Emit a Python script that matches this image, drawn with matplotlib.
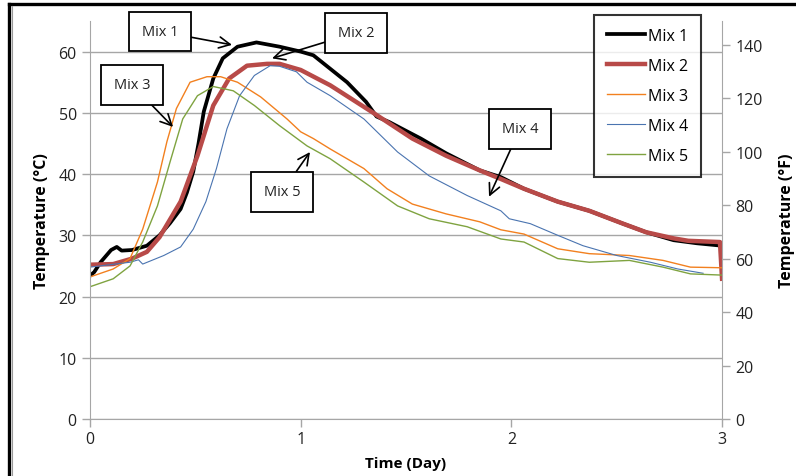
import matplotlib.pyplot as plt
from matplotlib.lines import Line2D

plt.rcParams["font.family"] = ["Open Sans", "DejaVu Sans"]

# temperature logs, day vs deg C
mix1_day = [0.0, 0.02, 0.05, 0.10, 0.127, 0.15, 0.20, 0.27, 0.33, 0.38, 0.43,
            0.46, 0.49, 0.515, 0.54, 0.585, 0.63, 0.70, 0.79, 0.90, 1.00, 1.06,
            1.14, 1.22, 1.31, 1.36, 1.42, 1.57, 1.69, 1.85, 1.95, 2.06, 2.22,
            2.37, 2.53, 2.64, 2.77, 2.88, 3.0]
mix1_temp = [23.4, 24.0, 25.6, 27.6, 28.1, 27.5, 27.6, 28.3, 30.0, 32.0, 34.3,
             37.0, 40.4, 45.0, 50.2, 55.6, 58.9, 60.8, 61.5, 60.8, 60.0, 59.4,
             57.2, 55.0, 51.8, 49.4, 48.5, 45.8, 43.4, 40.6, 39.5, 37.6, 35.5,
             34.0, 31.9, 30.5, 29.2, 28.7, 28.3]

mix2_day = [0.0, 0.11, 0.20, 0.27, 0.33, 0.43, 0.51, 0.585, 0.66, 0.745, 0.84,
            0.90, 1.00, 1.14, 1.34, 1.53, 1.69, 1.85, 1.95, 2.06, 2.22, 2.37,
            2.53, 2.64, 2.77, 2.84, 2.99, 3.0]
mix2_temp = [25.2, 25.3, 26.2, 27.3, 29.7, 35.5, 43.0, 51.2, 55.6, 57.7, 58.0,
             58.0, 57.0, 54.5, 50.1, 45.8, 43.0, 40.6, 39.2, 37.6, 35.5, 34.0,
             31.9, 30.5, 29.5, 29.1, 28.9, 22.9]

mix3_day = [0.0, 0.11, 0.19, 0.25, 0.32, 0.365, 0.41, 0.475, 0.555, 0.62, 0.70,
            0.81, 0.935, 1.00, 1.06, 1.14, 1.30, 1.41, 1.53, 1.69, 1.85, 1.95,
            2.06, 2.22, 2.37, 2.56, 2.72, 2.85, 3.0]
mix3_temp = [23.2, 24.5, 26.2, 31.0, 38.7, 45.3, 50.7, 55.0, 55.9, 55.9, 55.0,
             52.6, 49.0, 46.9, 45.8, 44.1, 40.9, 37.6, 35.1, 33.5, 32.2, 30.9,
             30.2, 27.8, 27.0, 26.7, 25.9, 24.8, 24.7]

mix4_day = [0.0, 0.19, 0.23, 0.25, 0.35, 0.43, 0.49, 0.55, 0.60, 0.65, 0.71,
            0.78, 0.855, 0.90, 0.98, 1.03, 1.14, 1.30, 1.46, 1.61, 1.79, 1.95,
            1.99, 2.09, 2.22, 2.34, 2.50, 2.66, 2.79, 2.91]
mix4_temp = [24.8, 25.6, 26.0, 25.3, 26.7, 28.1, 31.0, 35.5, 40.9, 47.4, 52.8,
             56.1, 57.7, 57.6, 56.7, 55.0, 52.8, 49.0, 43.6, 39.7, 36.5, 34.0,
             32.7, 31.9, 30.0, 28.3, 26.7, 25.6, 24.5, 23.8]

mix5_day = [0.0, 0.11, 0.19, 0.25, 0.32, 0.38, 0.44, 0.51, 0.585, 0.68, 0.78,
            0.90, 1.03, 1.14, 1.30, 1.46, 1.61, 1.79, 1.95, 2.06, 2.22, 2.37,
            2.56, 2.72, 2.85, 3.0]
mix5_temp = [21.6, 22.9, 25.0, 28.9, 34.8, 42.0, 49.0, 52.8, 54.3, 53.6, 51.2,
             47.9, 44.6, 42.5, 38.7, 34.8, 32.7, 31.4, 29.4, 28.9, 26.2, 25.6,
             25.9, 24.8, 23.7, 23.5]

# callout text: (label, text x, text y, arrow tip x, arrow tip y)
callouts = [
    ("Mix 1", 0.332, 63.3, 0.674, 61.1),
    ("Mix 2", 1.263, 63.1, 0.864, 58.9),
    ("Mix 3", 0.199, 54.6, 0.394, 47.7),
    ("Mix 4", 2.041, 47.4, 1.894, 36.3),
    ("Mix 5", 0.911, 37.1, 1.044, 43.6),
]

fig = plt.figure(figsize=(7.96, 4.77), dpi=100)
ax = fig.add_axes([0.1131, 0.1195, 0.7940, 0.8344])

ax.plot(mix1_day, mix1_temp, color="black", lw=2.7, label="Mix 1")
ax.plot(mix2_day, mix2_temp, color="#B84A48", lw=3.2, label="Mix 2")
ax.plot(mix3_day, mix3_temp, color="#F2801F", lw=1.0, label="Mix 3")
ax.plot(mix4_day, mix4_temp, color="#4A74B0", lw=0.8, label="Mix 4")
ax.plot(mix5_day, mix5_temp, color="#7FA340", lw=1.0, label="Mix 5")

grid_c = "#A6A6A6"
ax.set_xlim(0, 3)
ax.set_ylim(0, 65)
ax.set_xticks([0, 1, 2, 3])
ax.set_yticks(range(0, 61, 10))
ax.yaxis.grid(True, color=grid_c, lw=1.0)
ax.set_axisbelow(True)
for side in ["top", "right"]:
    ax.spines[side].set_visible(False)
for side in ["left", "bottom"]:
    ax.spines[side].set_color(grid_c)
ax.tick_params(axis="both", colors=grid_c, labelcolor="#222222",
               labelsize=11.5, length=6, width=1.0)
ax.tick_params(axis="x", pad=3)
ax.set_xlabel("Time (Day)", fontsize=11, fontweight="bold", labelpad=6)
ax.set_ylabel("Temperature (°C)", fontsize=11.5, fontweight="bold", labelpad=6)

ax2 = ax.twinx()
ax2.set_ylim(0, 149)
ax2.set_yticks(range(0, 141, 20))
for side in ["top", "left", "bottom"]:
    ax2.spines[side].set_visible(False)
ax2.spines["right"].set_color(grid_c)
ax2.tick_params(axis="y", colors=grid_c, labelcolor="#222222",
                labelsize=11.5, length=6, width=1.0)
ax2.set_ylabel("Temperature (°F)", fontsize=11.5, fontweight="bold", labelpad=12)

for label, tx, ty, px, py in callouts:
    ax.annotate(
        label, xy=(px, py), xytext=(tx, ty), ha="center", va="center",
        fontsize=10.5, color="#222222", zorder=6,
        bbox=dict(boxstyle="square,pad=0.85", fc="white", ec="black", lw=1.3),
        arrowprops=dict(arrowstyle="->", color="black", lw=1.2,
                        mutation_scale=20, shrinkA=0, shrinkB=0),
        annotation_clip=False,
    )

leg = ax.legend(
    loc="upper right", bbox_to_anchor=(0.8807, 0.9665),
    bbox_transform=fig.transFigure, fontsize=11.5, frameon=True,
    fancybox=False, edgecolor="black", handlelength=2.4,
    labelspacing=0.88, borderpad=0.8, handletextpad=0.2,
    borderaxespad=0,
)
leg.get_frame().set_linewidth(1.5)
leg.set_zorder(10)

# outer frame lines along the top and left edges
fig.add_artist(Line2D([8.5 / 796, 1.0], [1 - 5 / 477, 1 - 5 / 477],
                      transform=fig.transFigure, color="black", lw=2.4))
fig.add_artist(Line2D([8.5 / 796, 8.5 / 796], [0, 1 - 5 / 477],
                      transform=fig.transFigure, color="black", lw=2.4))
fig.add_artist(Line2D([11.5 / 796, 11.5 / 796], [0, 1 - 7 / 477],
                      transform=fig.transFigure, color="#9A9A9A", lw=0.8))

fig.savefig("out.png", dpi=100)
